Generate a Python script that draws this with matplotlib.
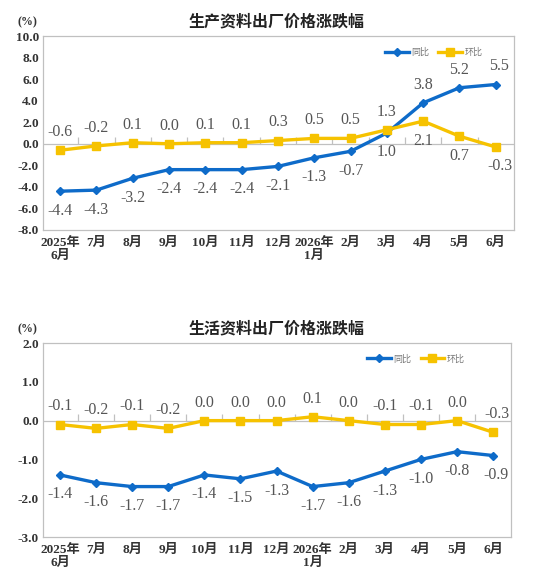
import numpy as np
import matplotlib
matplotlib.use("Agg")
import matplotlib.pyplot as plt

plt.rcParams['font.family'] = ['Liberation Serif', 'Noto Sans CJK SC']

months = ["2025年\n6月", "7月", "8月", "9月", "10月", "11月", "12月",
          "2026年\n1月", "2月", "3月", "4月", "5月", "6月"]

# 生产资料
prod_yoy = [-4.4, -4.3, -3.2, -2.4, -2.4, -2.4, -2.1, -1.3, -0.7, 1.0, 3.8, 5.2, 5.5]
prod_mom = [-0.6, -0.2, 0.1, 0.0, 0.1, 0.1, 0.3, 0.5, 0.5, 1.3, 2.1, 0.7, -0.3]
# 生活资料
cons_yoy = [-1.4, -1.6, -1.7, -1.7, -1.4, -1.5, -1.3, -1.7, -1.6, -1.3, -1.0, -0.8, -0.9]
cons_mom = [-0.1, -0.2, -0.1, -0.2, 0.0, 0.0, 0.0, 0.1, 0.0, -0.1, -0.1, 0.0, -0.3]

BLUE = "#0e6bc9"
YELLOW = "#f6c200"
GRID = "#c0c0c0"
LABEL = "#555555"
CJK = ['Noto Sans CJK SC']


def draw(ax, title, yoy, mom, ylim, step, yoy_above, mom_below, leg_anchor, fig_title_y):
    x = np.arange(len(months))
    ax.plot(x, yoy, color=BLUE, lw=2.4, marker="D", ms=4.5, label="同比", zorder=3)
    ax.plot(x, mom, color=YELLOW, lw=2.4, marker="s", ms=6, label="环比", zorder=3)

    # zero line with boundary ticks
    ax.axhline(0, color=GRID, lw=0.9, zorder=1)
    bounds = x[:-1] + 0.5
    ax.plot(bounds, np.zeros(len(bounds)), ls="none", marker=2, ms=5,
            color=GRID, mew=0.9, zorder=1)

    for i, v in enumerate(yoy):
        off = 13 if i in yoy_above else -14
        ax.annotate(f"{v:.1f}", (i, v), xytext=(2 if i == 12 else 0, off),
                    textcoords="offset points", ha="center", va="center",
                    fontsize=11.5, color=LABEL)
    for i, v in enumerate(mom):
        off = -14 if i in mom_below else 13
        ax.annotate(f"{v:.1f}", (i, v), xytext=(3 if i == 12 else 0, off),
                    textcoords="offset points", ha="center", va="center",
                    fontsize=11.5, color=LABEL)

    ax.set_xlim(-0.47, 12.5)
    ax.set_ylim(*ylim)
    ax.set_yticks(np.arange(ylim[0], ylim[1] + 0.01, step))
    ax.yaxis.set_major_formatter(matplotlib.ticker.FormatStrFormatter("%.1f"))
    ax.set_xticks(x)
    ax.set_xticklabels(months, linespacing=1.1)
    ax.tick_params(axis="both", length=0, labelsize=9.5, pad=3)
    ax.tick_params(axis="x", pad=5)
    for lab in ax.get_xticklabels() + ax.get_yticklabels():
        lab.set_fontweight("bold")
        lab.set_color("#333333")
    for s in ax.spines.values():
        s.set_color(GRID)
        s.set_linewidth(0.9)

    leg = ax.legend(loc="center", bbox_to_anchor=leg_anchor, ncol=2, frameon=False,
                    handlelength=2.6, columnspacing=1.0, handletextpad=0.3,
                    prop={'family': CJK, 'size': 6.5})
    for t in leg.get_texts():
        t.set_color("#777777")

    fig.text(0.506, fig_title_y, title, ha="center", va="center",
             fontsize=11.5, fontweight="bold", family=CJK, color="#222222")
    fig.text(0.05, fig_title_y, "(%)", ha="center", va="center",
             fontsize=8.5, fontweight="bold", color="#333333")


fig = plt.figure(figsize=(5.47, 5.77), dpi=100)
ax1 = fig.add_axes([0.0786, 0.6014, 0.861, 0.3362])
ax2 = fig.add_axes([0.0786, 0.0693, 0.856, 0.3362])

draw(ax1, "生产资料出厂价格涨跌幅", prod_yoy, prod_mom, (-8, 10), 2,
     yoy_above={10, 11, 12}, mom_below={10, 11, 12}, leg_anchor=(0.83, 0.917),
     fig_title_y=0.962)
draw(ax2, "生活资料出厂价格涨跌幅", cons_yoy, cons_mom, (-3, 2), 1,
     yoy_above=set(), mom_below=set(), leg_anchor=(0.797, 0.918),
     fig_title_y=0.43)

fig.savefig("out.png", dpi=100, facecolor="white")
